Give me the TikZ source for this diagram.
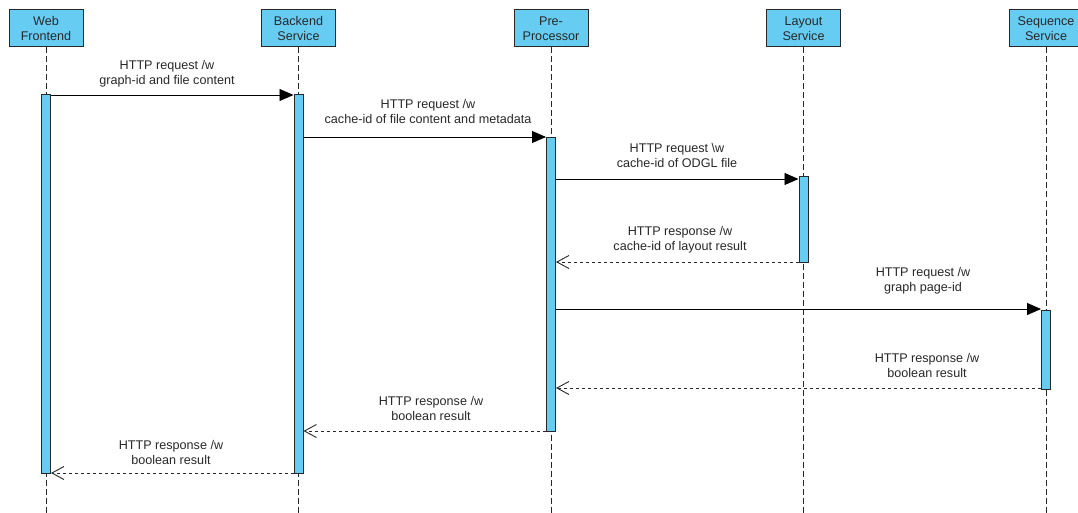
\documentclass[tikz,border=0pt]{standalone}
\usepackage{fontspec}
\setmainfont{Liberation Sans}
\usetikzlibrary{arrows.meta}
\definecolor{fillblue}{RGB}{102,204,242}
\definecolor{edge}{RGB}{40,40,40}
\definecolor{txt}{RGB}{40,40,40}
\begin{document}
\begin{tikzpicture}[x=1pt,y=-1pt,
  actor/.style={draw=edge,fill=fillblue,line width=1pt,minimum width=74pt,minimum height=37pt,inner sep=0pt,align=center,font=\fontsize{12.6}{14.5}\selectfont,text=txt},
  bar/.style={draw=edge,fill=fillblue,line width=1pt},
  life/.style={draw=edge,line width=0.9pt,dash pattern=on 6pt off 3pt},
  req/.style={draw=black,line width=0.9pt,-{Triangle[length=14pt,width=12pt]}},
  resp/.style={draw=edge,line width=0.9pt,dash pattern=on 3pt off 3pt,-{Straight Barb[length=12pt,width=13pt,line width=0.9pt]}},
  lbl/.style={align=center,font=\fontsize{12.6}{15}\selectfont,text=txt,inner sep=0pt}]
\useasboundingbox (0,0) rectangle (1078,513);
\begin{scope}
\clip (0,0) rectangle (1078,513);
% actors
\node[actor] (web) at (46,28.5) {Web\\Frontend};
\node[actor] (be) at (298.5,28.5) {Backend\\Service};
\node[actor] (pp) at (551,28.5) {Pre-\\Processor};
\node[actor] (lay) at (803.5,28.5) {Layout\\Service};
\node[actor] (seq) at (1046,28.5) {Sequence\\Service};
% lifeline ends
\coordinate (webE) at (46,513);
\coordinate (beE) at (298.5,513);
\coordinate (ppE) at (551,513);
\coordinate (layE) at (803.5,513);
\coordinate (seqE) at (1046,513);
\draw[life] (web.south) -- (webE);
\draw[life] (be.south) -- (beE);
\draw[life] (pp.south) -- (ppE);
\draw[life] (lay.south) -- (layE);
\draw[life] (seq.south) -- (seqE);
% activation bars
\node[bar,minimum width=9pt,minimum height=379pt,inner sep=0pt,anchor=north] (webA) at (46,94) {};
\node[bar,minimum width=9pt,minimum height=379pt,inner sep=0pt,anchor=north] (beA) at (298.5,94) {};
\node[bar,minimum width=9pt,minimum height=294pt,inner sep=0pt,anchor=north] (ppA) at (551,137) {};
\node[bar,minimum width=9pt,minimum height=86pt,inner sep=0pt,anchor=north] (layA) at (803.5,176) {};
\node[bar,minimum width=9pt,minimum height=79pt,inner sep=0pt,anchor=north] (seqA) at (1046,310) {};
\end{scope}
% messages
\draw[req] (webA.east |- 0,95) -- (beA.west |- 0,95);
\node[lbl] (l1) at (167,73.5) {HTTP request /w\\graph-id and file content};
\draw[req] (beA.east |- 0,137) -- (ppA.west |- 0,137);
\node[lbl] (l2) at (428,111.5) {HTTP request /w\\cache-id of file content and metadata};
\draw[req] (ppA.east |- 0,179) -- (layA.west |- 0,179);
\node[lbl] (l3) at (677,155) {HTTP request \textbackslash w\\cache-id of ODGL file};
\draw[resp] (layA.west |- 0,262) -- (ppA.east |- 0,262);
\node[lbl] (l4) at (680,239.5) {HTTP response /w\\cache-id of layout result};
\draw[req] (ppA.east |- 0,309) -- (seqA.west |- 0,309);
\node[lbl] (l5) at (923,281) {HTTP request /w\\graph page-id};
\draw[resp] (seqA.west |- 0,388) -- (ppA.east |- 0,388);
\node[lbl] (l6) at (927,365) {HTTP response /w\\boolean result};
\draw[resp] (ppA.west |- 0,431) -- (beA.east |- 0,431);
\node[lbl] (l7) at (431,408.5) {HTTP response /w\\boolean result};
\draw[resp] (beA.west |- 0,473) -- (webA.east |- 0,473);
\node[lbl] (l8) at (171,452) {HTTP response /w\\boolean result};
\end{tikzpicture}
\end{document}
